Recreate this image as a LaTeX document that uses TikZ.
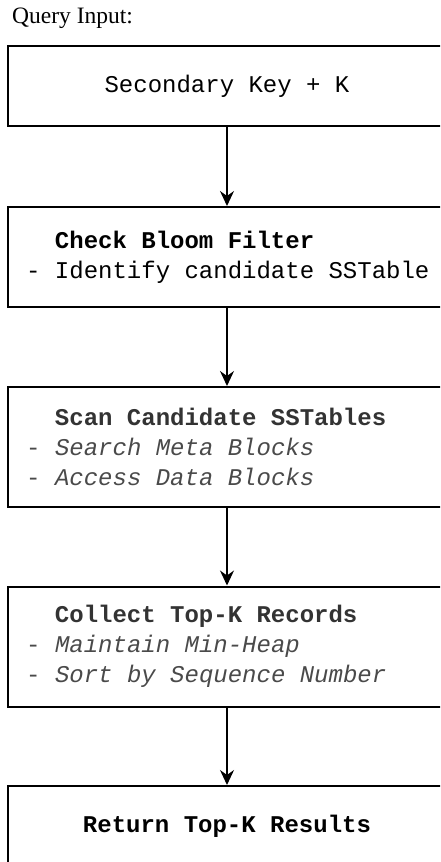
\documentclass[tikz,border=0pt]{standalone}
\usepackage{fontspec}
\setmainfont{Liberation Serif}
\setmonofont{Liberation Mono}
\usetikzlibrary{arrows.meta}
\definecolor{headgray}{HTML}{333333}
\definecolor{itemgray}{HTML}{4A4A4A}
\newcommand{\monotext}{\ttfamily\fontsize{24}{30}\selectfont}
\newcommand{\fixsp}{\spaceskip=14.4pt\xspaceskip=14.4pt\relax}
\tikzset{
  x=1pt, y=1pt,
  box/.style={draw=black, line width=2pt, rectangle, minimum width=438pt, inner sep=0pt,
    font=\monotext},
  centerbox/.style={box, align=center},
  boxtext/.style={anchor=west, inner sep=0pt, align=left, font=\monotext},
  flow/.style={line width=1.5pt, -{Stealth[length=15pt, width=14pt, inset=5pt]}},
}
\begin{document}
\begin{tikzpicture}
\useasboundingbox (0,0) rectangle (440,-862);
\clip (0,0) rectangle (440,-862);
\node[anchor=west, font=\fontsize{23.5}{28}\selectfont, inner sep=0pt] (title) at (12,-18) {Query Input:};
\node[centerbox, minimum height=80pt] (b1) at (227,-86) {\fixsp Secondary Key + K};
\node[box, minimum height=100pt] (b2) at (227,-257) {};
\node[box, minimum height=120pt] (b3) at (227,-447) {};
\node[box, minimum height=120pt] (b4) at (227,-646.5) {};
\node[centerbox, minimum height=80pt] (b5) at (227,-826) {\fixsp\textbf{Return Top-K Results}};
\node[boxtext] (t2) at ([xshift=19pt]b2.west)
  {\fixsp\hspace*{28.8pt}\textbf{Check Bloom Filter}\\- Identify candidate SSTable};
\node[boxtext] (t3) at ([xshift=19pt]b3.west)
  {\fixsp\hspace*{28.8pt}\textcolor{headgray}{\textbf{Scan Candidate SSTables}}\\
   \textcolor{itemgray}{- \textit{Search Meta Blocks}}\\
   \textcolor{itemgray}{- \textit{Access Data Blocks}}};
\node[boxtext] (t4) at ([xshift=19pt]b4.west)
  {\fixsp\hspace*{28.8pt}\textcolor{headgray}{\textbf{Collect Top-K Records}}\\
   \textcolor{itemgray}{- \textit{Maintain Min-Heap}}\\
   \textcolor{itemgray}{- \textit{Sort by Sequence Number}}};
\draw[flow] (b1.south) -- (b2.north);
\draw[flow] (b2.south) -- (b3.north);
\draw[flow] (b3.south) -- (b4.north);
\draw[flow] (b4.south) -- (b5.north);
\end{tikzpicture}
\end{document}
